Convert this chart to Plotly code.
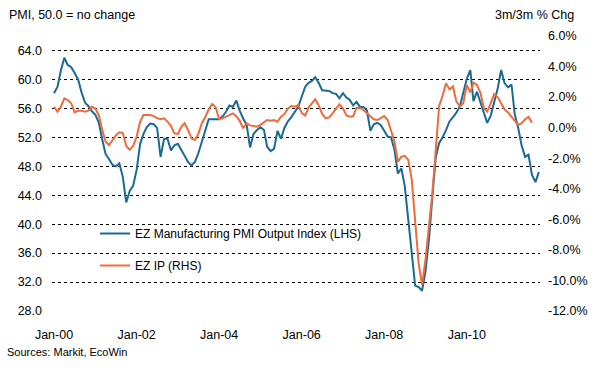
import pandas as pd
import plotly.graph_objects as go

# ---- data ----
pmi_start = "2000-01-01"
pmi_output = [
    58.1, 59.0, 61.2, 63.0, 62.0, 61.7, 60.9, 60.0, 58.2, 56.8, 56.3, 55.6,   # 2000
    55.1, 54.0, 51.8, 49.7, 49.0, 48.2, 48.0, 48.4, 46.5, 43.0, 44.6, 45.3,   # 2001
    47.5, 51.1, 52.4, 53.4, 53.9, 53.8, 53.3, 49.3, 51.8, 51.8, 50.2, 50.9,   # 2002
    51.1, 50.3, 49.5, 48.6, 48.1, 48.6, 49.8, 51.5, 53.0, 54.5, 54.5, 54.5,   # 2003
    54.5, 54.9, 55.5, 56.4, 56.2, 57.1, 55.7, 54.6, 53.7, 50.6, 52.5, 53.0,   # 2004
    53.4, 53.0, 50.7, 50.1, 50.4, 52.9, 51.8, 53.3, 54.2, 54.8, 55.5, 56.2,   # 2005
    57.6, 59.0, 59.5, 59.8, 60.3, 59.5, 58.5, 58.5, 58.4, 58.1, 58.0, 57.4,   # 2006
    58.1, 57.5, 57.2, 56.4, 56.9, 56.2, 56.2, 55.7, 52.9, 53.8, 54.0, 53.7,   # 2007
    52.8, 52.1, 52.0, 50.3, 47.0, 47.7, 45.3, 40.3, 36.0, 31.5, 31.3, 30.8,   # 2008
    33.5, 38.0, 43.5, 49.2, 51.2, 52.0, 53.0, 54.2, 54.8, 55.4, 56.3, 58.4,   # 2009
    60.1, 61.3, 57.0, 58.3, 56.9, 55.2, 54.0, 55.0, 56.9, 58.7, 61.3, 59.5,   # 2010
    58.9, 59.3, 55.2, 53.3, 50.9, 49.3, 49.6, 46.8, 45.8, 47.2,               # 2011
]
ip_start = "2000-01-01"
ip_3m3m = [
    1.37, 1.05, 1.37, 1.92, 1.80, 1.60, 1.00, 1.10, 1.10, 1.05, 1.11, 1.37,   # 2000
    1.25, 0.80, -0.10, -0.90, -1.15, -0.85, -0.50, -0.30, -0.35, -1.20, -1.45, -1.20,  # 2001
    -0.60, 0.39, 0.83, 0.83, 0.83, 0.76, 0.62, 0.55, 0.61, 0.40, 0.10, -0.37,  # 2002
    -0.41, 0.06, 0.29, -0.15, -0.70, -0.81, -0.40, 0.29, 0.70, 1.20, 1.55, 1.35,  # 2003
    0.55, 0.61, 0.72, 0.83, 0.94, 0.75, 0.45, -0.04, 0.29, 0.15, 0.10, 0.06,  # 2004
    0.18, 0.35, 0.50, 0.45, 0.50, 0.39, 0.72, 0.90, 1.25, 1.42, 1.37, 1.48,   # 2005
    0.95, 0.80, 1.30, 1.59, 1.86, 1.45, 0.90, 0.61, 0.68, 0.94, 1.27, 1.53,   # 2006
    1.27, 0.80, 0.72, 0.75, 1.31, 1.31, 1.16, 0.94, 0.70, 0.55, 0.50, 0.61,   # 2007
    0.76, 0.50, -0.15, -0.90, -2.23, -1.90, -1.85, -2.11, -3.40, -6.30, -8.90, -10.30,  # 2008
    -8.60, -6.40, -4.40, -1.50, 1.40, 2.10, 2.90, 2.50, 2.70, 1.70, 1.40, 1.60,  # 2009
    2.80, 2.30, 2.95, 2.80, 2.30, 1.30, 1.05, 1.60, 2.20, 2.00, 1.55, 1.20,   # 2010
    1.00, 0.70, 0.40, 0.18, 0.30, 0.55, 0.70, 0.33,                           # 2011
]
left_tick_vals = [28, 32, 36, 40, 44, 48, 52, 56, 60, 64]
right_tick_vals = [-12, -10, -8, -6, -4, -2, 0, 2, 4, 6]
right_tick_text = ["-12.0%", "-10.0%", "-8.0%", "-6.0%", "-4.0%", "-2.0%",
                   "0.0%", "2.0%", "4.0%", "6.0%"]
pmi_name = "EZ Manufacturing PMI Output Index (LHS)"
ip_name = "EZ IP (RHS)"

pmi_dates = pd.date_range(pmi_start, periods=len(pmi_output), freq="MS")
ip_dates = pd.date_range(ip_start, periods=len(ip_3m3m), freq="MS")

BLUE = "#1a6a94"
ORANGE = "#f06b3c"
FONT = "Liberation Sans, Arial, sans-serif"

fig = go.Figure()
fig.add_trace(go.Scatter(
    x=ip_dates, y=ip_3m3m, name=ip_name, mode="lines", yaxis="y2",
    line=dict(color=ORANGE, width=2), legendgroup="b", legendrank=2,
))
fig.add_trace(go.Scatter(
    x=pmi_dates, y=pmi_output, name=pmi_name, mode="lines", yaxis="y",
    line=dict(color=BLUE, width=2), legendgroup="a", legendrank=1,
))

L, R, T, B = 52, 65, 36, 69
W, H = 605, 380
pw, ph = W - L - R, H - T - B

def px_x(x):
    return (x - L) / pw

def px_y(y):
    return (H - B - y) / ph

fig.update_layout(
    width=W, height=H,
    margin=dict(l=L, r=R, t=T, b=B, pad=0),
    paper_bgcolor="white", plot_bgcolor="white",
    font=dict(family=FONT, size=12, color="#000000"),
    showlegend=True,
    legend=dict(
        x=px_x(95), y=px_y(219), xanchor="left", yanchor="top",
        bgcolor="rgba(255,255,255,0)", borderwidth=0,
        font=dict(family=FONT, size=12, color="#000000"),
        traceorder="grouped", tracegroupgap=13, itemwidth=30,
    ),
    xaxis=dict(
        type="date",
        range=["1999-12-14", "2011-10-11"],
        tick0="2000-01-01", dtick="M24", tickformat="%b-%y",
        showgrid=False, zeroline=False, showline=False,
        ticks="", ticklabelstandoff=14,
        tickfont=dict(family=FONT, size=12.5, color="#000000"),
    ),
    yaxis=dict(
        range=[28, 66], tickvals=left_tick_vals, tickformat=".1f",
        showgrid=True, gridcolor="#000000", gridwidth=1, griddash="3px,3px",
        zeroline=False, showline=False, ticks="", ticklabelstandoff=9,
        tickfont=dict(family=FONT, size=12.5, color="#000000"),
    ),
    yaxis2=dict(
        range=[-12, 6], overlaying="y", side="right",
        tickvals=right_tick_vals, ticktext=right_tick_text,
        showgrid=False, zeroline=False, showline=False, ticks="",
        ticklabelstandoff=7,
        tickfont=dict(family=FONT, size=12.5, color="#000000"),
    ),
    annotations=[
        dict(text="PMI, 50.0 = no change", xref="paper", yref="paper",
             x=px_x(7), y=px_y(15), xanchor="left", yanchor="middle",
             showarrow=False, font=dict(family=FONT, size=12.5, color="#000000")),
        dict(text="3m/3m % Chg", xref="paper", yref="paper",
             x=px_x(493), y=px_y(15), xanchor="left", yanchor="middle",
             showarrow=False, font=dict(family=FONT, size=12.5, color="#000000")),
        dict(text="Sources: Markit, EcoWin", xref="paper", yref="paper",
             x=px_x(5), y=px_y(352), xanchor="left", yanchor="middle",
             showarrow=False, font=dict(family=FONT, size=11, color="#000000")),
    ],
)

fig.write_html("out.html", config={"displayModeBar": False},
               post_script="document.body.style.margin='0px';")
